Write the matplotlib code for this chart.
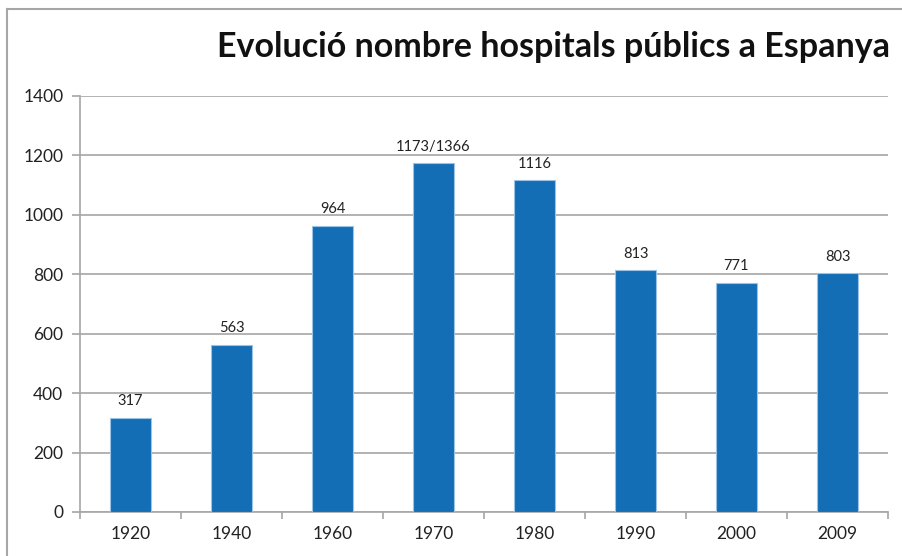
import matplotlib
matplotlib.use("Agg")
import matplotlib.pyplot as plt
from matplotlib.lines import Line2D

categories = ["1920", "1940", "1960", "1970", "1980", "1990", "2000", "2009"]
values = [317, 563, 964, 1173, 1116, 813, 771, 803]
labels = ["317", "563", "964", "1173/1366", "1116", "813", "771", "803"]
title = "Evolució nombre hospitals públics a Espanya"

plt.rcParams['font.family'] = ['Lato', 'DejaVu Sans']

fig = plt.figure(figsize=(9.02, 5.56), dpi=100)
ax = fig.add_axes([80/902, 44/556, 808/902, 416/556])

grey = "#A6A6A6"
x = list(range(len(categories)))
ax.bar(x, values, width=0.4, color="#136EB6", edgecolor="#9CC3E6", linewidth=0.8, zorder=3)
for xi, v, lab in zip(x, values, labels):
    ax.annotate(lab, (xi, v), xytext=(0, 7), textcoords="offset points",
                ha="center", va="bottom", fontsize=10.5, color="#222222")

ax.set_xlim(-0.5, len(categories) - 0.5)
ax.set_ylim(0, 1400)
ax.set_yticks(range(0, 1401, 200))
ax.yaxis.grid(True, color=grey, linewidth=1.2, zorder=0)
ax.set_xticks(x)
ax.set_xticklabels(categories, fontsize=12.5, color="#222222")
ax.tick_params(axis='x', length=0, pad=10)
ax.set_xticks([i - 0.5 for i in range(len(categories) + 1)], minor=True)
ax.tick_params(axis='x', which='minor', length=5, color=grey, width=1.2)
ax.tick_params(axis='y', length=6, color=grey, width=1.2, labelsize=12.5, labelcolor="#222222", pad=6)
for s in ["top", "right"]:
    ax.spines[s].set_visible(False)
for s in ["left", "bottom"]:
    ax.spines[s].set_color(grey)
    ax.spines[s].set_linewidth(1.2)

fig.text(890/902, 1 - 47/556, title, ha="right", va="center", fontsize=24.5,
         fontweight="bold", color="#111111")

# outer frame
fig.add_artist(Line2D([7/902, 1], [1 - 9/556, 1 - 9/556], transform=fig.transFigure, color=grey, linewidth=1.5))
fig.add_artist(Line2D([7/902, 7/902], [0, 1 - 9/556], transform=fig.transFigure, color=grey, linewidth=1.5))

fig.savefig("out.png", dpi=100)
